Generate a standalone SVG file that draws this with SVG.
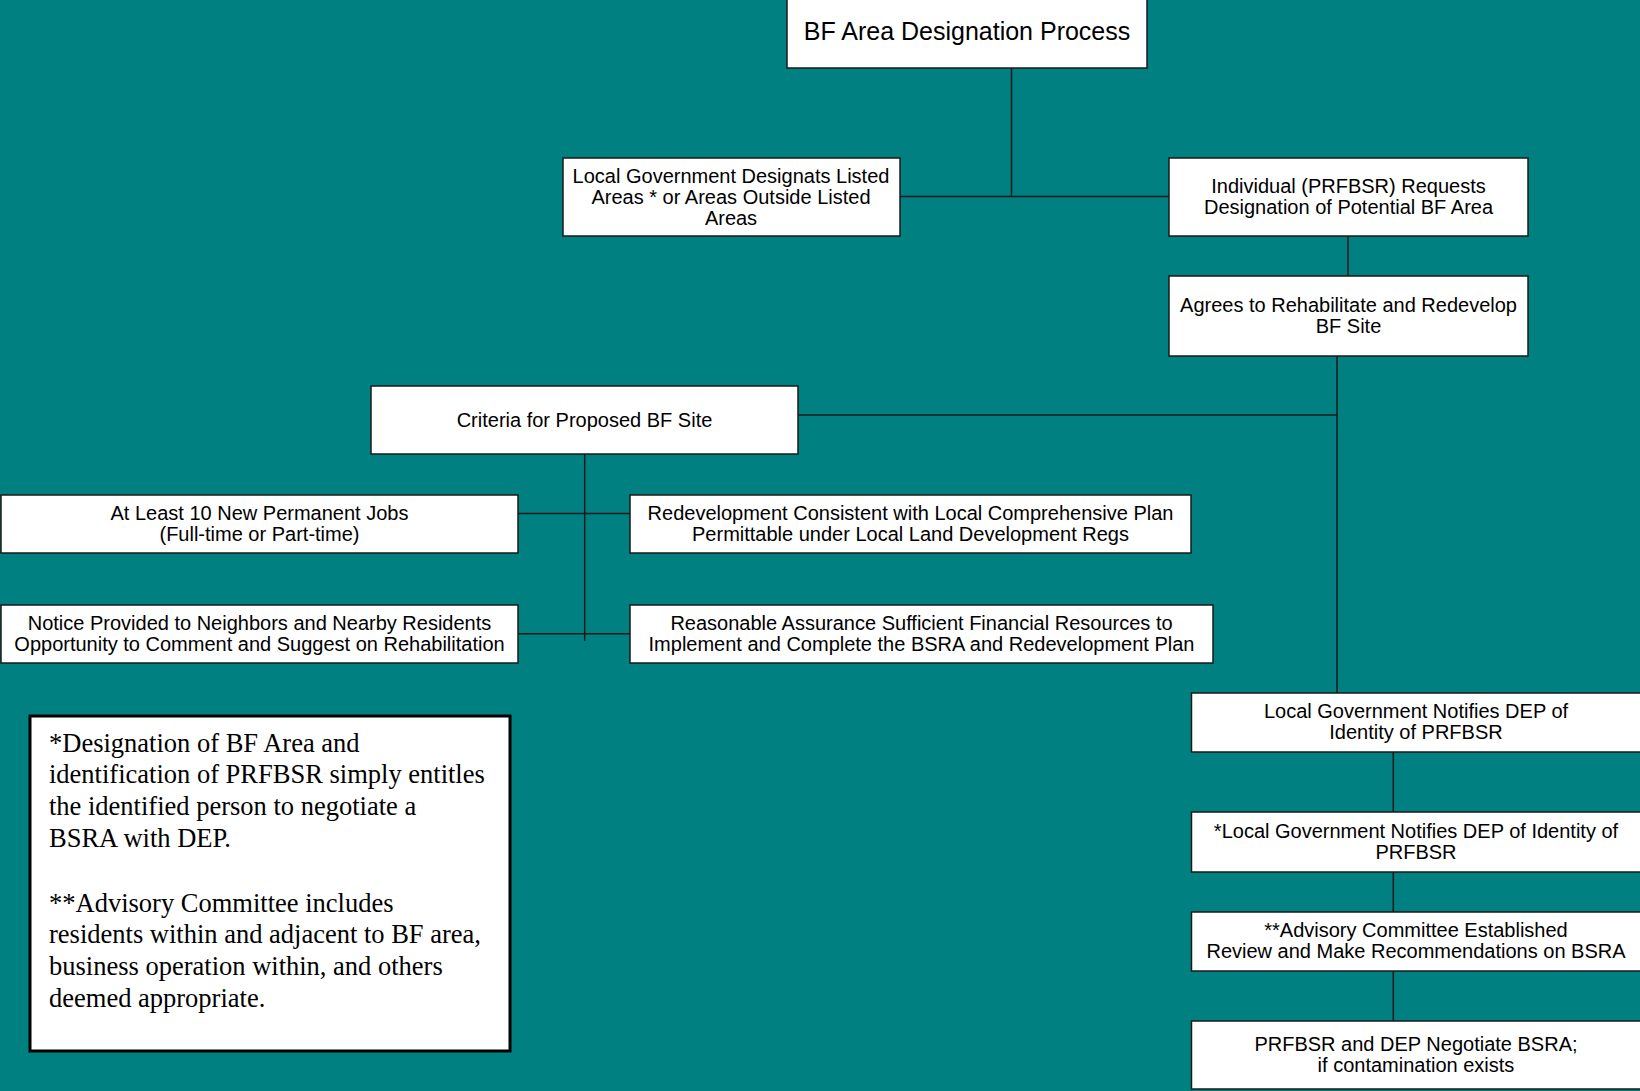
<svg xmlns="http://www.w3.org/2000/svg" width="1640" height="1091" viewBox="0 0 1640 1091">
<style>
.bg{fill:#008080}
.box{fill:#ffffff;stroke:#1a1a1a;stroke-width:1.5}
.note{fill:#ffffff;stroke:#000000;stroke-width:3}
.t{font-family:"Liberation Sans",Arial,sans-serif;font-size:20px;fill:#000;text-anchor:middle}
.title{font-size:25px}
.n{font-family:"Liberation Serif","Times New Roman",serif;font-size:26.5px;fill:#000}
.c{stroke:#1a1a1a;stroke-width:1.5;fill:none}
</style>
<rect class="bg" x="0" y="0" width="1640" height="1091"/>
<g id="connectors">
<path class="c" d="M1011.5 68V196.6M900 196.6H1169M1348 236V276M1337 356V693M798 415H1337M584.7 454V641M518 513.5H630M518 633.8H630M1393.3 752V812M1393.3 872V912M1393.3 971V1021"/>
</g>
<g id="n-title">
<rect class="box" x="787" y="-2" width="360" height="70"/>
<text class="t title" x="967" y="40">BF Area Designation Process</text>
</g>
<g id="n-localgov">
<rect class="box" x="563" y="158" width="337" height="78"/>
<text class="t" x="731" y="183">Local Government Designats Listed</text>
<text class="t" x="731" y="204">Areas * or Areas Outside Listed</text>
<text class="t" x="731" y="225">Areas</text>
</g>
<g id="n-individual">
<rect class="box" x="1169" y="158" width="359" height="78"/>
<text class="t" x="1348.5" y="193">Individual (PRFBSR) Requests</text>
<text class="t" x="1348.5" y="214">Designation of Potential BF Area</text>
</g>
<g id="n-agrees">
<rect class="box" x="1169" y="276" width="359" height="80"/>
<text class="t" x="1348.5" y="312">Agrees to Rehabilitate and Redevelop</text>
<text class="t" x="1348.5" y="333">BF Site</text>
</g>
<g id="n-criteria">
<rect class="box" x="371" y="386" width="427" height="68"/>
<text class="t" x="584.5" y="427">Criteria for Proposed BF Site</text>
</g>
<g id="n-jobs">
<rect class="box" x="1" y="495" width="517" height="58"/>
<text class="t" x="259.5" y="520">At Least 10 New Permanent Jobs</text>
<text class="t" x="259.5" y="541">(Full-time or Part-time)</text>
</g>
<g id="n-redevelopment">
<rect class="box" x="630" y="495" width="561" height="58"/>
<text class="t" x="910.5" y="520">Redevelopment Consistent with Local Comprehensive Plan</text>
<text class="t" x="910.5" y="541">Permittable under Local Land Development Regs</text>
</g>
<g id="n-notice">
<rect class="box" x="1" y="605" width="517" height="58"/>
<text class="t" x="259.5" y="630">Notice Provided to Neighbors and Nearby Residents</text>
<text class="t" x="259.5" y="651">Opportunity to Comment and Suggest on Rehabilitation</text>
</g>
<g id="n-assurance">
<rect class="box" x="630" y="605" width="583" height="58"/>
<text class="t" x="921.5" y="630">Reasonable Assurance Sufficient Financial Resources to</text>
<text class="t" x="921.5" y="651">Implement and Complete the BSRA and Redevelopment Plan</text>
</g>
<g id="n-notify1">
<rect class="box" x="1191.5" y="693" width="460" height="59"/>
<text class="t" x="1416" y="718">Local Government Notifies DEP of</text>
<text class="t" x="1416" y="739">Identity of PRFBSR</text>
</g>
<g id="n-notify2">
<rect class="box" x="1191.5" y="812" width="460" height="60"/>
<text class="t" x="1416" y="838">*Local Government Notifies DEP of Identity of</text>
<text class="t" x="1416" y="859">PRFBSR</text>
</g>
<g id="n-advisory">
<rect class="box" x="1191.5" y="912" width="460" height="59"/>
<text class="t" x="1416" y="937">**Advisory Committee Established</text>
<text class="t" x="1416" y="958">Review and Make Recommendations on BSRA</text>
</g>
<g id="n-negotiate">
<rect class="box" x="1191.5" y="1021" width="460" height="68"/>
<text class="t" x="1416" y="1051">PRFBSR and DEP Negotiate BSRA;</text>
<text class="t" x="1416" y="1072">if contamination exists</text>
</g>
<g id="n-footnote">
<rect class="note" x="30" y="716" width="480" height="335"/>
<text class="n" x="49" y="751.5">*Designation of BF Area and</text>
<text class="n" x="49" y="783.2">identification of PRFBSR simply entitles</text>
<text class="n" x="49" y="814.9">the identified person to negotiate a</text>
<text class="n" x="49" y="846.6">BSRA with DEP.</text>
<text class="n" x="49" y="911.5">**Advisory Committee includes</text>
<text class="n" x="49" y="943.2">residents within and adjacent to BF area,</text>
<text class="n" x="49" y="974.9">business operation within, and others</text>
<text class="n" x="49" y="1006.6">deemed appropriate.</text>
</g>
</svg>
